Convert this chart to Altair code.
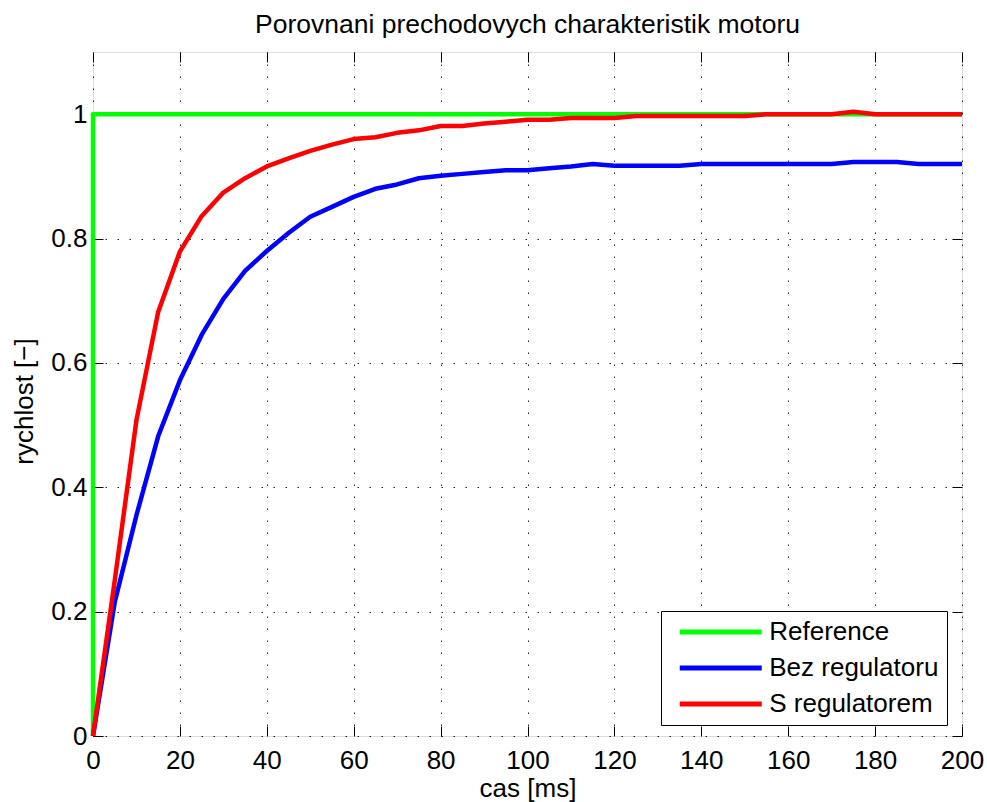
import altair as alt
import pandas as pd

# ---- data ----
series_names = ["Reference", "Bez regulatoru", "S regulatorem"]
series_colors = ["#00ff00", "#0000ff", "#ff0000"]

ref_t = [0, 0, 200]
ref_v = [0, 1, 1]

t = list(range(0, 205, 5))
bez_v = [0.0, 0.215, 0.355, 0.482, 0.572, 0.645, 0.703, 0.748, 0.780, 0.809,
         0.835, 0.851, 0.867, 0.880, 0.887, 0.897, 0.901, 0.904, 0.907, 0.910,
         0.910, 0.913, 0.916, 0.920, 0.917, 0.917, 0.917, 0.917, 0.920, 0.920,
         0.920, 0.920, 0.920, 0.920, 0.920, 0.923, 0.923, 0.923, 0.920, 0.920,
         0.920]
s_v = [0.0, 0.250, 0.508, 0.682, 0.779, 0.836, 0.874, 0.897, 0.916, 0.929,
       0.941, 0.951, 0.960, 0.963, 0.970, 0.974, 0.981, 0.981, 0.985, 0.988,
       0.991, 0.991, 0.994, 0.994, 0.994, 0.997, 0.997, 0.997, 0.997, 0.997,
       0.997, 1.000, 1.000, 1.000, 1.000, 1.004, 1.000, 1.000, 1.000, 1.000,
       1.000]

x_ticks = list(range(0, 201, 20))
y_ticks = [0, 0.2, 0.4, 0.6, 0.8, 1.0]

rows = []
for i, (a, b) in enumerate(zip(ref_t, ref_v)):
    rows.append({"t": a, "v": b, "serie": series_names[0], "i": i})
for i, (a, b) in enumerate(zip(t, bez_v)):
    rows.append({"t": a, "v": b, "serie": series_names[1], "i": i})
for i, (a, b) in enumerate(zip(t, s_v)):
    rows.append({"t": a, "v": b, "serie": series_names[2], "i": i})
df = pd.DataFrame(rows)

FONT = "Liberation Sans"
FS = 26

xscale = alt.Scale(domain=[0, 200], nice=False, zero=False)
yscale = alt.Scale(domain=[0, 1.1], nice=False, zero=False)

lines = alt.Chart(df).mark_line(strokeWidth=4.5, strokeJoin="round").encode(
    x=alt.X("t:Q", scale=xscale,
            axis=alt.Axis(orient="bottom", values=x_ticks, format="d", offset=-10,
                          domain=False, tickSize=10, tickColor="black", tickWidth=1,
                          labelPadding=11, labelFontSize=FS, labelColor="black",
                          labelFlush=False, labelOverlap=False, labelFont=FONT,
                          grid=True, gridDash=[1.5, 10.5], gridColor="black",
                          gridWidth=1, gridOpacity=0.85,
                          title="cas [ms]", titleFontSize=FS, titleFont=FONT,
                          titleFontWeight="normal", titleColor="black",
                          titleBaseline="alphabetic", titleY=70)),
    y=alt.Y("v:Q", scale=yscale,
            axis=alt.Axis(orient="left", values=y_ticks, format="~g", offset=-10,
                          domain=False, tickSize=10, tickColor="black", tickWidth=1,
                          labelPadding=6, labelFontSize=FS, labelColor="black",
                          labelOverlap=False, labelFont=FONT,
                          grid=True, gridDash=[1.5, 10.5], gridColor="black",
                          gridWidth=1, gridOpacity=0.85,
                          title="rychlost [−]", titleFontSize=FS, titleFont=FONT,
                          titleFontWeight="normal", titleColor="black",
                          titleBaseline="alphabetic", titleAngle=270,
                          titleX=-71, titleY=349)),
    color=alt.Color("serie:N",
                    scale=alt.Scale(domain=series_names, range=series_colors),
                    legend=alt.Legend(title=None, orient="none", legendX=568, legendY=559,
                                      symbolType="M-4,0L4,0", symbolSize=420,
                                      symbolStrokeWidth=5, symbolOffset=38.75,
                                      labelOffset=35.5, labelFontSize=FS, labelFont=FONT,
                                      labelLimit=400,
                                      labelColor="black", padding=8, rowPadding=10,
                                      strokeColor="black", fillColor="white")),
    order="i:Q",
)

frame_ticks = alt.Chart(df).mark_line(strokeOpacity=0).encode(
    x=alt.X("t:Q", scale=xscale,
            axis=alt.Axis(orient="top", values=x_ticks, offset=-10, domain=False,
                          labels=False, tickSize=10, tickColor="black", tickWidth=1,
                          grid=False, title=None)),
    y=alt.Y("v:Q", scale=yscale,
            axis=alt.Axis(orient="right", values=y_ticks, offset=-10, domain=False,
                          labels=False, tickSize=10, tickColor="black", tickWidth=1,
                          grid=False, title=None)),
    detail="serie:N",
    order="i:Q",
)

chart = alt.layer(lines, frame_ticks).resolve_axis(
    x="independent", y="independent"
).properties(
    width=869, height=684,
    autosize="none",
    padding={"left": 93, "top": 52, "right": 25, "bottom": 66},
    title=alt.TitleParams("Porovnani prechodovych charakteristik motoru",
                          font=FONT, fontSize=26.5, fontWeight="normal", color="black",
                          anchor="middle", baseline="alphabetic", offset=13, dy=21),
).configure_view(
    stroke="black", strokeWidth=1.5
).configure(
    background="white", font=FONT
)

chart.save("out.html", embed_options={"renderer": "svg", "actions": False})
